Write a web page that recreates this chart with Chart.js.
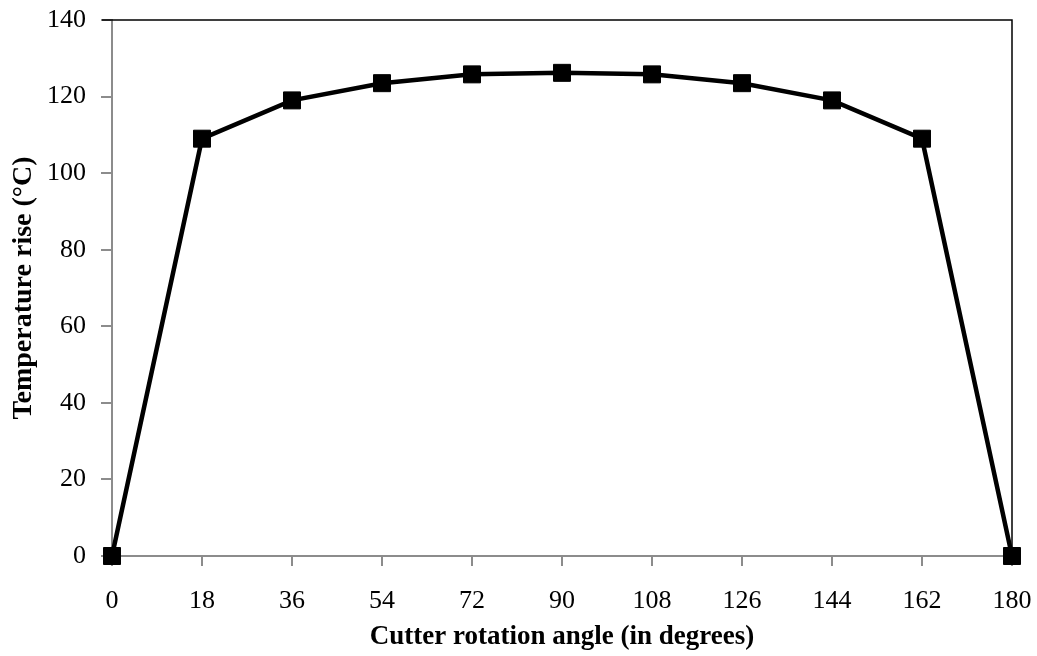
<!DOCTYPE html>
<html>
<head>
<meta charset="utf-8">
<script src="https://cdn.jsdelivr.net/npm/chart.js@4/dist/chart.umd.min.js"></script>
<style>
  html, body { margin: 0; padding: 0; background: #fff; }
  #wrap { width: 1037px; height: 656px; }
</style>
</head>
<body>
<div id="wrap"><canvas id="temp-chart" width="1037" height="656"></canvas></div>
<script>
// rotation angle (degrees) and temperature rise (°C)
const angles = [0, 18, 36, 54, 72, 90, 108, 126, 144, 162, 180];
const tempRise = [0, 109, 119, 123.5, 125.8, 126.2, 125.8, 123.5, 119, 109, 0];
const xTicks = [0, 18, 36, 54, 72, 90, 108, 126, 144, 162, 180];
const yTicks = [0, 20, 40, 60, 80, 100, 120, 140];

const axisGrey = '#8c8c8c';
const serif = "'Liberation Serif', 'Times New Roman', serif";

// black frame on the top and right edges of the plot area
const plotFrame = {
    id: 'plotFrame',
    afterDraw(chart) {
        const { ctx, chartArea: a } = chart;
        ctx.save();
        ctx.strokeStyle = '#000';
        ctx.lineWidth = 1.5;
        ctx.beginPath();
        ctx.moveTo(a.left - 10, a.top);
        ctx.lineTo(a.right, a.top);
        ctx.lineTo(a.right, a.bottom);
        ctx.stroke();
        ctx.restore();
    }
};

new Chart(document.getElementById('temp-chart').getContext('2d'), {
    type: 'line',
    data: {
        datasets: [{
            data: angles.map((a, i) => ({ x: a, y: tempRise[i] })),
            borderColor: '#000',
            backgroundColor: '#000',
            borderWidth: 4.5,
            pointStyle: 'rect',
            pointRadius: 12,
            pointBorderWidth: 1,
            tension: 0,
            clip: false
        }]
    },
    options: {
        responsive: false,
        animation: false,
        layout: { padding: { top: 20, right: 25, left: 0, bottom: 0 } },
        plugins: { legend: { display: false }, tooltip: { enabled: false } },
        scales: {
            x: {
                type: 'linear',
                min: 0,
                max: 180,
                afterBuildTicks: s => { s.ticks = xTicks.map(v => ({ value: v })); },
                afterFit: s => { s.height = 100; s.paddingLeft = 0; s.paddingRight = 0; },
                border: { color: axisGrey, width: 2 },
                grid: { drawOnChartArea: false, color: axisGrey, tickLength: 10, lineWidth: 2 },
                ticks: { color: '#000', padding: 20, maxRotation: 0, font: { family: serif, size: 26 } },
                title: {
                    display: true,
                    text: 'Cutter rotation angle (in degrees)',
                    color: '#000',
                    padding: { top: 0, bottom: 3 },
                    font: { family: serif, size: 27, weight: 'bold' }
                }
            },
            y: {
                min: 0,
                max: 140,
                afterBuildTicks: s => { s.ticks = yTicks.map(v => ({ value: v })); },
                afterFit: s => { s.width = 112; s.paddingTop = 0; s.paddingBottom = 0; },
                border: { color: axisGrey, width: 2 },
                grid: { drawOnChartArea: false, color: axisGrey, tickLength: 11, lineWidth: 2 },
                ticks: { color: '#000', padding: 15, font: { family: serif, size: 26 } },
                title: {
                    display: true,
                    text: 'Temperature rise (°C)',
                    color: '#000',
                    padding: { top: 7, bottom: 0 },
                    font: { family: serif, size: 28, weight: 'bold' }
                }
            }
        }
    },
    plugins: [plotFrame]
});
</script>
</body>
</html>
